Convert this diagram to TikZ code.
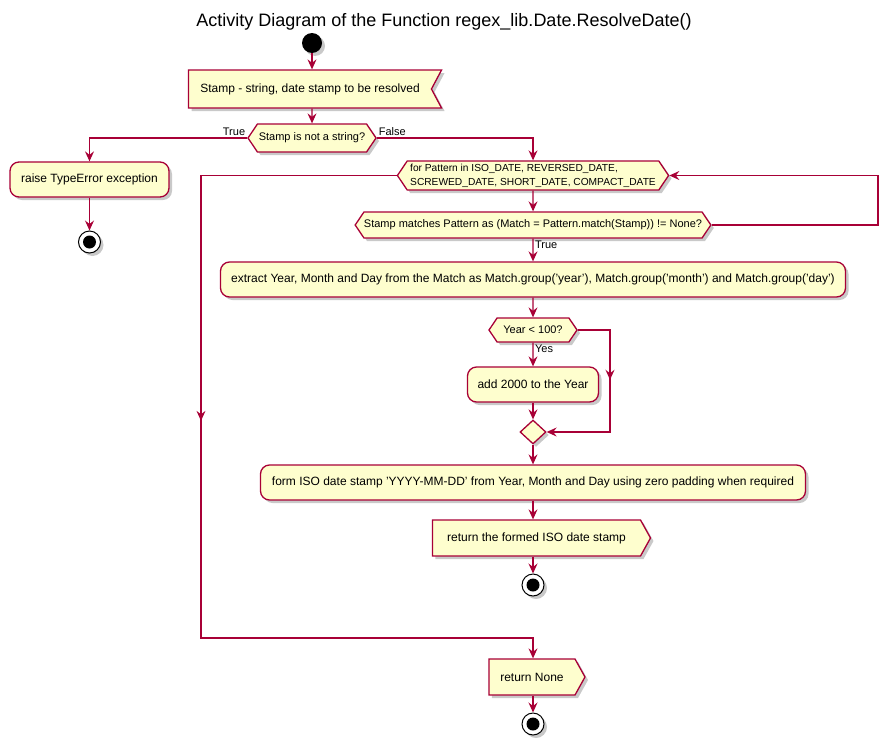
\documentclass[tikz,border=0pt]{standalone}
\usepackage{fontspec}
\setmainfont{Liberation Sans}
\usetikzlibrary{arrows.meta,shapes.geometric,shapes.symbols,shadows,decorations.markings}
\definecolor{wire}{HTML}{A80036}
\definecolor{paper}{HTML}{FEFECE}
\definecolor{ink}{HTML}{000000}
\tikzset{
  x=1pt, y=-1pt,
  >={Stealth[length=10pt,width=9pt,inset=3.5pt]},
  shade/.style={drop shadow={shadow xshift=3pt, shadow yshift=-3pt, opacity=0.3, fill=black!70}},
  box/.style={draw=wire, fill=paper, line width=1.3pt, text=ink, inner sep=0pt, shade,
    font=\fontsize{12}{14}\selectfont},
  act/.style={box, rectangle, rounded corners=9pt},
  cond/.style={box, signal, signal to=west and east, signal pointer angle=112,
    font=\fontsize{11}{14}\selectfont},
  inbox/.style={box, signal, signal to=nowhere, signal from=east, signal pointer angle=124},
  outbox/.style={box, signal, signal to=east, signal pointer angle=122},
  merger/.style={box, diamond, minimum width=26pt, minimum height=24pt},
  startdot/.style={circle, fill=ink, minimum size=20pt, inner sep=0pt, shade},
  stopdot/.style={circle, draw=ink, fill=white, line width=1pt, minimum size=22pt, inner sep=0pt, shade,
    path picture={\fill[ink] (path picture bounding box.center) circle[radius=6.5pt];}},
  flow/.style={draw=wire, line width=1.2pt, ->},
  midarrow/.style={postaction={decorate},
    decoration={markings, mark=at position #1 with {\arrow{>}}}},
  lab/.style={font=\fontsize{11}{13}\selectfont, text=ink, inner sep=1.5pt},
}

\begin{document}
\begin{tikzpicture}
\useasboundingbox (0,0) rectangle (888,744);

\node[font=\fontsize{18}{20}\selectfont] (head) at (444,22)
  {Activity Diagram of the Function regex\_lib.Date.ResolveDate()};

% ---------------- input and type check ----------------
\node[startdot] (start) at (312,43) {};
\node[inbox, minimum width=253pt, minimum height=38pt] (stamp) at (310,89)
  {Stamp - string, date stamp to be resolved};
\node[cond, minimum width=128pt, minimum height=28pt] (isstr) at (312,138) {Stamp is not a string?};
\node[act, minimum width=159pt, minimum height=35pt] (raise) at (89.5,179.5) {raise TypeError exception};
\node[stopdot] (stop1) at (89.5,242) {};

% ---------------- loop over the patterns ----------------
\node[cond, align=left, inner xsep=3pt, minimum width=270pt, minimum height=29pt,
  font=\fontsize{10.2}{14}\selectfont] (loop) at (533,175.5)
  {for Pattern in ISO\_DATE, REVERSED\_DATE,\\SCREWED\_DATE, SHORT\_DATE, COMPACT\_DATE};
\node[cond, minimum width=352pt, minimum height=26pt] (match) at (533,225)
  {Stamp matches Pattern as (Match = Pattern.match(Stamp)) != None?};
\node[act, minimum width=625pt, minimum height=35pt] (extract) at (533,279.5)
  {extract Year, Month and Day from the Match as Match.group('year'), Match.group('month') and Match.group('day')};
\node[cond, minimum width=88pt, minimum height=24pt] (year) at (533,330) {Year < 100?};
\node[act, minimum width=131pt, minimum height=35pt] (add) at (533,384.5) {add 2000 to the Year};
\node[merger] (merge) at (533,432) {};
\node[act, minimum width=545pt, minimum height=35pt] (form) at (533,482.5)
  {form ISO date stamp 'YYYY-MM-DD' from Year, Month and Day using zero padding when required};
\node[outbox, minimum width=218pt, minimum height=36pt] (ret) at (536.5,538) {return the formed ISO date stamp};
\node[stopdot] (stop2) at (533,585) {};

% ---------------- no pattern matched ----------------
\node[outbox, minimum width=96pt, minimum height=36pt] (none) at (532,677) {return None};
\node[stopdot] (stop3) at (533,724) {};

\coordinate (turn) at (878,200);
\coordinate (skip) at (610,380);
\coordinate (exit) at (201,638);

% ---------------- connectors ----------------
\draw[flow] (start) -- (start |- stamp.north);
\draw[flow] (start |- stamp.south) -- (isstr);
\draw[flow] (isstr.west) -| node[lab, pos=0, anchor=south east] {True} (raise);
\draw[flow] (isstr.east) -| node[lab, pos=0, anchor=south west] {False} (loop);
\draw[flow] (raise) -- (stop1);
\draw[flow] (loop) -- (match);
\draw[flow] (match.east) -| (turn) |- (loop.east);
\draw[flow] (match) -- node[lab, pos=0, anchor=north west] {True} (extract);
\draw[flow] (extract) -- (year);
\draw[flow] (year) -- node[lab, pos=0, anchor=north west] {Yes} (add);
\draw[flow, midarrow=82pt] (year.east) -| (skip) |- (merge.east);
\draw[flow] (add) -- (merge);
\draw[flow] (merge) -- (form);
\draw[flow] (form) -- (stop2 |- ret.north);
\draw[flow] (stop2 |- ret.south) -- (stop2);
\draw[flow, midarrow=441pt] (loop.west) -| (exit) -| (none.north -| stop3);
\draw[flow] (stop3 |- none.south) -- (stop3);

\end{tikzpicture}
\end{document}
